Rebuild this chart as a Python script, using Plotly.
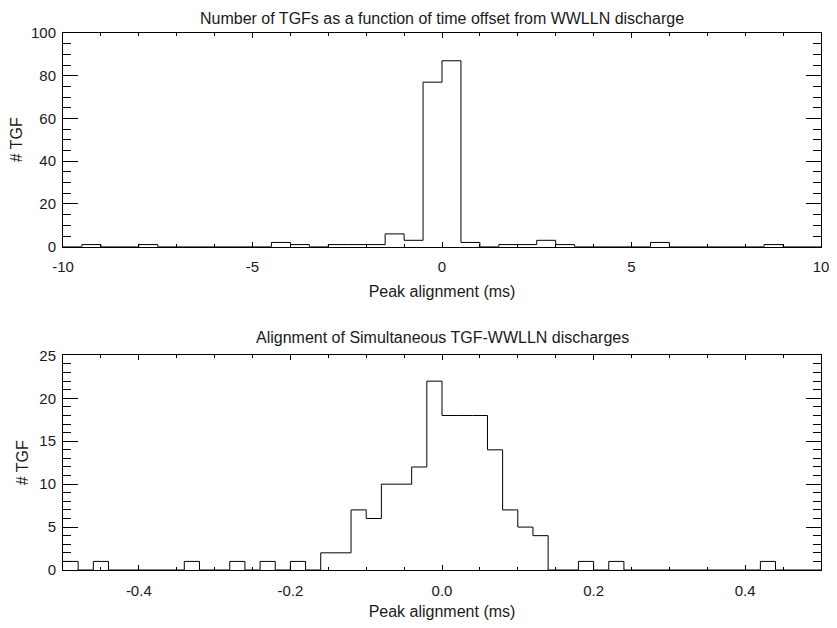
import numpy as np
import plotly.graph_objects as go

# Top panel: full offset range, 0.5 ms bins starting at -10 ms
TOP_START = -10.0
TOP_WIDTH = 0.5
top_counts = [0, 1, 0, 0, 1, 0, 0, 0, 0, 0,
              0, 2, 1, 0, 1, 1, 1, 6, 3, 77,
              87, 2, 0, 1, 1, 3, 1, 0, 0, 0,
              0, 2, 0, 0, 0, 0, 0, 1, 0, 0]

# Bottom panel: simultaneous events, 0.02 ms bins starting at -0.5 ms
BOT_START = -0.5
BOT_WIDTH = 0.02
bot_counts = [1, 0, 1, 0, 0, 0, 0, 0, 1, 0,
              0, 1, 0, 1, 0, 1, 0, 2, 2, 7,
              6, 10, 10, 12, 22, 18, 18, 18, 14, 7,
              5, 4, 0, 0, 1, 0, 1, 0, 0, 0,
              0, 0, 0, 0, 0, 0, 1, 0, 0, 0]

top_xticks = [-10, -5, 0, 5, 10]
top_xlabels = ["-10", "-5", "0", "5", "10"]
bot_xticks = [-0.4, -0.2, 0.0, 0.2, 0.4]
bot_xlabels = ["-0.4", "-0.2", "0.0", "0.2", "0.4"]

top_title = "Number of TGFs as a function of time offset from WWLLN discharge"
bot_title = "Alignment of Simultaneous TGF-WWLLN discharges"
x_label = "Peak alignment (ms)"
y_label = "# TGF"

FONT = "Liberation Sans, Arial, Helvetica, sans-serif"
INK = "#1a1a1a"


def step_xy(start, width, counts):
    """Bin edges and counts arranged for an 'hv' step outline."""
    edges = start + width * np.arange(len(counts) + 1)
    return edges, list(counts) + [counts[-1]]


fig = go.Figure()

tx, ty = step_xy(TOP_START, TOP_WIDTH, top_counts)
fig.add_trace(go.Scatter(x=tx, y=ty, mode="lines", line=dict(shape="hv", color="black", width=1),
                         xaxis="x", yaxis="y", showlegend=False))
bx, by = step_xy(BOT_START, BOT_WIDTH, bot_counts)
fig.add_trace(go.Scatter(x=bx, y=by, mode="lines", line=dict(shape="hv", color="black", width=1),
                         xaxis="x2", yaxis="y2", showlegend=False))

common = dict(showline=True, linecolor="black", linewidth=1, mirror="ticks",
              ticks="inside", tickcolor="black", tickwidth=1, showgrid=False,
              zeroline=False, tickfont=dict(size=15, color=INK),
              title_font=dict(size=16, color=INK), ticklabeloverflow="allow")

# page body adds an 8px margin all round, so the figure fills what is left
fig.update_layout(
    width=821, height=612,
    margin=dict(l=55, r=0, t=25, b=44),
    plot_bgcolor="white", paper_bgcolor="white",
    font=dict(family=FONT, color=INK),
    xaxis=dict(common, range=[-10, 10], tickvals=top_xticks, ticktext=top_xlabels,
               ticklen=5, anchor="y", ticklabelstandoff=6,
               minor=dict(dtick=1, ticklen=3, ticks="inside", tickcolor="black"),
               title=dict(text=x_label, standoff=12)),
    yaxis=dict(common, range=[0, 100], dtick=20, ticklen=15, domain=[0.602, 1.0], anchor="x",
               ticklabelstandoff=3,
               minor=dict(dtick=5, ticklen=8, ticks="inside", tickcolor="black"),
               title=dict(text=y_label, standoff=6)),
    xaxis2=dict(common, range=[-0.5, 0.5], tickvals=bot_xticks, ticktext=bot_xlabels,
                ticklen=5, anchor="y2", ticklabelstandoff=7,
                minor=dict(dtick=0.05, ticklen=3, ticks="inside", tickcolor="black"),
                title=dict(text=x_label, standoff=10)),
    yaxis2=dict(common, range=[0, 25], dtick=5, ticklen=15, domain=[0.0, 0.3996], anchor="x2",
                ticklabelstandoff=3,
                minor=dict(dtick=1, ticklen=8, ticks="inside", tickcolor="black"),
                title=dict(text=y_label, standoff=6)),
    annotations=[
        dict(text=top_title, xref="paper", yref="paper", x=0.5, y=1.0, yshift=4,
             xanchor="center", yanchor="bottom", showarrow=False, font=dict(size=16, color=INK)),
        dict(text=bot_title, xref="paper", yref="paper", x=0.5, y=0.3996, yshift=7,
             xanchor="center", yanchor="bottom", showarrow=False, font=dict(size=16, color=INK)),
    ],
)

fig.write_html("out.html")
